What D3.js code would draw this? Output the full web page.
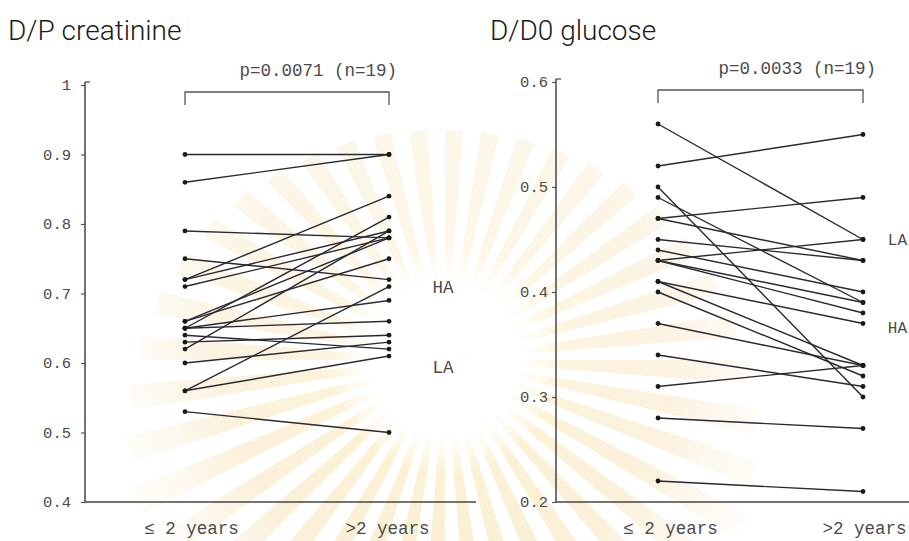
<!DOCTYPE html>
<html>
<head>
<meta charset="utf-8">
<script src="https://cdn.jsdelivr.net/npm/d3@7"></script>
<style>
  html, body { margin: 0; padding: 0; background: #fff; }
  svg { display: block; }
  .mono { font-family: "Liberation Mono", "Courier New", monospace; fill: #4a4a4a; }
  .title { font-family: Roboto, "Liberation Sans", Arial, sans-serif; font-weight: 300; fill: #1a1a1a; }
</style>
</head>
<body>
<svg id="chart" width="909" height="541"></svg>
<script>
// Paired measurements: each patient at ≤ 2 years and at > 2 years on dialysis
const categories = ["≤ 2 years", ">2 years"];
const titles = ["D/P creatinine", "D/D0 glucose"];
const pLabels = ["p=0.0071 (n=19)", "p=0.0033 (n=19)"];

// D/P creatinine
const creatTicks = [0.4, 0.5, 0.6, 0.7, 0.8, 0.9, 1];
const creatTickLabels = ["0.4", "0.5", "0.6", "0.7", "0.8", "0.9", "1"];
const creatEarly = [0.90, 0.86, 0.79, 0.75, 0.72, 0.72, 0.71, 0.66, 0.66, 0.65, 0.65, 0.65, 0.64, 0.63, 0.62, 0.60, 0.56, 0.56, 0.53];
const creatLate  = [0.90, 0.90, 0.78, 0.72, 0.84, 0.79, 0.78, 0.78, 0.75, 0.81, 0.69, 0.66, 0.62, 0.64, 0.79, 0.63, 0.71, 0.61, 0.50];
const creatGroups = ["HA", "LA"];
const creatGroupAt = [0.71, 0.595];

// D/D0 glucose
const glucTicks = [0.2, 0.3, 0.4, 0.5, 0.6];
const glucTickLabels = ["0.2", "0.3", "0.4", "0.5", "0.6"];
const glucEarly = [0.56, 0.52, 0.50, 0.49, 0.47, 0.47, 0.45, 0.43, 0.44, 0.43, 0.43, 0.41, 0.41, 0.40, 0.37, 0.34, 0.31, 0.28, 0.22];
const glucLate  = [0.45, 0.55, 0.30, 0.39, 0.49, 0.43, 0.43, 0.45, 0.40, 0.39, 0.38, 0.37, 0.33, 0.32, 0.33, 0.31, 0.33, 0.27, 0.21];
const glucGroups = ["LA", "HA"];
const glucGroupAt = [0.45, 0.366];

const svg = d3.select("#chart");

// faint sunburst emblem behind the plots
(function drawEmblem() {
  const cx = 445, cy = 360;
  const defs = svg.append("defs");
  const grad = defs.append("radialGradient")
    .attr("id", "rayFill").attr("gradientUnits", "userSpaceOnUse")
    .attr("cx", 0).attr("cy", 0).attr("r", 380);
  grad.append("stop").attr("offset", "0.19").attr("stop-color", "#fdf5dc").attr("stop-opacity", 0.1);
  grad.append("stop").attr("offset", "0.3").attr("stop-color", "#f7e3a6").attr("stop-opacity", 0.5);
  grad.append("stop").attr("offset", "0.6").attr("stop-color", "#f4d89c").attr("stop-opacity", 0.4);
  grad.append("stop").attr("offset", "1").attr("stop-color", "#fbeed0").attr("stop-opacity", 0);
  const g = svg.append("g").attr("transform", `translate(${cx},${cy})`);
  const n = 40;
  d3.range(n).forEach(i => {
    const a0 = (i / n) * 2 * Math.PI;
    // rays reach further toward the bottom than toward the top
    const reach = 230 + 150 * (1 - Math.cos(a0)) / 2;
    const arc = d3.arc().innerRadius(78).outerRadius(reach);
    g.append("path")
      .attr("d", arc({ startAngle: a0, endAngle: a0 + (2 * Math.PI / n) * 0.5 }))
      .attr("fill", "url(#rayFill)")
      .attr("opacity", 0.55 + 0.45 * (1 - Math.cos(a0)) / 2);
  });
})();

function panel(opt) {
  const x = d3.scalePoint().domain(categories).range(opt.xRange);
  const y = d3.scaleLinear().domain(opt.domain).range([502, opt.yTop]);
  const g = svg.append("g");

  // title
  svg.append("text").attr("class", "title")
    .attr("x", opt.titleX).attr("y", 40)
    .attr("font-size", 28)
    .text(opt.title);

  // y axis
  const yAxis = d3.axisLeft(y).tickValues(opt.ticks)
    .tickFormat((d, i) => opt.tickLabels[i]).tickSize(4).tickPadding(opt.tickPad);
  const ya = g.append("g").attr("transform", `translate(${opt.axisX},0)`).call(yAxis);
  ya.select(".domain").remove();
  ya.selectAll(".tick line").attr("stroke", "#555").attr("stroke-width", 1.2);
  ya.selectAll(".tick text").attr("class", "mono").attr("font-size", 15.5).attr("fill", "#505050");
  g.append("line").attr("x1", opt.axisX).attr("x2", opt.axisX)
    .attr("y1", opt.yTop - 3).attr("y2", 502)
    .attr("stroke", "#444").attr("stroke-width", 1.5);
  g.append("line").attr("x1", opt.axisX).attr("x2", opt.axisX + 5)
    .attr("y1", opt.yTop - 3).attr("y2", opt.yTop - 3)
    .attr("stroke", "#444").attr("stroke-width", 1.2);

  // x axis line and category labels
  g.append("line").attr("x1", opt.axisX).attr("x2", opt.xAxisEnd)
    .attr("y1", 502).attr("y2", 502)
    .attr("stroke", "#444").attr("stroke-width", 1.5);
  const xAxis = d3.axisBottom(x).tickSize(0).tickPadding(20);
  const xa = g.append("g").attr("transform", "translate(0,502)").call(xAxis);
  xa.select(".domain").remove();
  xa.selectAll(".tick text").attr("class", "mono").attr("font-size", 17.5).attr("fill", "#444")
    .attr("dx", (d, i) => opt.catShift[i]);

  // comparison bracket and p value
  const bx0 = x(categories[0]), bx1 = x(categories[1]);
  g.append("path")
    .attr("d", `M${bx0},${opt.bracketY + 13}V${opt.bracketY}H${bx1}V${opt.bracketY + 13}`)
    .attr("fill", "none").attr("stroke", "#555").attr("stroke-width", 1.3);
  g.append("text").attr("class", "mono")
    .attr("x", bx1 + opt.pShift).attr("y", opt.bracketY - 16)
    .attr("text-anchor", "end").attr("font-size", 17.5).attr("fill", "#444")
    .text(opt.pLabel);

  // paired lines
  const pairs = opt.early.map((v, i) => [v, opt.late[i]]);
  g.append("g").selectAll("line").data(pairs).join("line")
    .attr("x1", x(categories[0])).attr("x2", x(categories[1]))
    .attr("y1", d => y(d[0])).attr("y2", d => y(d[1]))
    .attr("stroke", "#2a2830").attr("stroke-width", 1.4);

  // end points
  const pts = [];
  pairs.forEach(d => { pts.push([categories[0], d[0]]); pts.push([categories[1], d[1]]); });
  g.append("g").selectAll("circle").data(pts).join("circle")
    .attr("cx", d => x(d[0])).attr("cy", d => y(d[1])).attr("r", 2.4)
    .attr("fill", "#1a1a1a");

  // transport type labels
  g.append("g").selectAll("text").data(opt.groups).join("text")
    .attr("class", "mono")
    .attr("x", opt.groupX).attr("y", (d, i) => y(opt.groupAt[i]))
    .attr("dy", "0.35em").attr("font-size", opt.groupSize).attr("fill", "#444")
    .attr("text-anchor", opt.groupAnchor)
    .text(d => d);
}

panel({
  title: titles[0], titleX: 8,
  xRange: [185, 389], domain: [0.4, 1], yTop: 85,
  axisX: 85, xAxisEnd: 476, tickPad: 10,
  ticks: creatTicks, tickLabels: creatTickLabels,
  early: creatEarly, late: creatLate,
  bracketY: 92, pShift: 8, pLabel: pLabels[0],
  catShift: [6, -2],
  groups: creatGroups, groupAt: creatGroupAt, groupX: 443, groupAnchor: "middle", groupSize: 17.5
});

panel({
  title: titles[1], titleX: 490,
  xRange: [658, 863], domain: [0.2, 0.6], yTop: 82,
  axisX: 556, xAxisEnd: 909, tickPad: 4,
  ticks: glucTicks, tickLabels: glucTickLabels,
  early: glucEarly, late: glucLate,
  bracketY: 90, pShift: 13, pLabel: pLabels[1],
  catShift: [12, 1],
  groups: glucGroups, groupAt: glucGroupAt, groupX: 907, groupAnchor: "end", groupSize: 16
});
</script>
</body>
</html>
